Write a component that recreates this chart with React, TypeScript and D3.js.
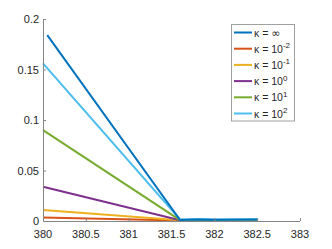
import React from 'react';
import * as d3 from 'd3';

const xs = [380, 381.6, 381.8, 382, 382.5];
const kappaInf = [0.184, 0.001, 0.0015, 0.0012, 0.0015];
const kappaM2 = [0.0035, 0.0005, 0.0005, 0.0005, 0.0005];
const kappaM1 = [0.011, 0.0008, 0.0008, 0.0008, 0.0008];
const kappa0 = [0.034, 0.0008, 0.0008, 0.0008, 0.0008];
const kappa1 = [0.09, 0.0008, 0.0008, 0.0008, 0.0008];
const kappa2 = [0.156, 0.0015, 0.002, 0.0015, 0.0018];
const infStartX = 380.05;

const xTicks = [380, 380.5, 381, 381.5, 382, 382.5, 383];
const yTicks = [0, 0.05, 0.1, 0.15, 0.2];

const series = [
  { label: '∞', exp: null, color: '#0072BD', values: kappaInf },
  { label: '10', exp: '-2', color: '#D95319', values: kappaM2 },
  { label: '10', exp: '-1', color: '#EDB120', values: kappaM1 },
  { label: '10', exp: '0', color: '#7E2F8E', values: kappa0 },
  { label: '10', exp: '1', color: '#77AC30', values: kappa1 },
  { label: '10', exp: '2', color: '#4DBEEE', values: kappa2 },
];
// draw order: blue on top like the figure
const drawOrder = [1, 2, 3, 4, 5, 0];

export default function App() {
  const x = d3.scaleLinear().domain([380, 383]).range([43, 300]);
  const y = d3.scaleLinear().domain([0, 0.2]).range([221, 19]);
  const ln = d3
    .line<[number, number]>()
    .x(d => x(d[0]))
    .y(d => y(d[1]));
  const font = 'Liberation Sans, Arial, sans-serif';
  const axisColor = '#858585';

  return (
    <svg width={332} height={249} style={{ position: 'absolute', left: 0, top: 0 }}>
      <rect width={332} height={249} fill="white" />
      {drawOrder.map(i => {
        const s = series[i];
        const pts = s.values.map((v, j) => [j === 0 && i === 0 ? infStartX : xs[j], v] as [number, number]);
        return <path key={i} d={ln(pts) || ''} fill="none" stroke={s.color} strokeWidth={2} />;
      })}
      {/* axes */}
      <line x1={x(380)} x2={x(383)} y1={y(0) + 0.5} y2={y(0) + 0.5} stroke={axisColor} />
      <line x1={x(380) + 0.5} x2={x(380) + 0.5} y1={y(0)} y2={y(0.2)} stroke={axisColor} />
      {xTicks.map(t => (
        <g key={t}>
          <line x1={x(t) + 0.5} x2={x(t) + 0.5} y1={y(0)} y2={y(0) - 3} stroke={axisColor} />
          <text x={x(t)} y={237.5} textAnchor="middle" fontFamily={font} fontSize={11} fill="#262626">
            {t}
          </text>
        </g>
      ))}
      {yTicks.map(t => (
        <g key={t}>
          <line x1={x(380)} x2={x(380) + 3} y1={y(t) + 0.5} y2={y(t) + 0.5} stroke={axisColor} />
          <text x={39} y={y(t) + 4} textAnchor="end" fontFamily={font} fontSize={11} fill="#262626">
            {t}
          </text>
        </g>
      ))}
      {/* legend */}
      <rect x={231.5} y={24.5} width={63} height={96.5} fill="white" stroke="#a0a0a0" />
      {series.map((s, i) => {
        const cy = 32.5 + i * 16.2;
        return (
          <g key={i}>
            <line x1={234} x2={252} y1={cy} y2={cy} stroke={s.color} strokeWidth={2} />
            <text x={254} y={cy + 4} fontFamily={font} fontSize={10.5} fill="#262626">
              κ = {s.exp ? s.label : <tspan fontFamily="DejaVu Sans" fontSize={11}>{s.label}</tspan>}
              {s.exp && (
                <tspan dy={-4.5} fontSize={8}>
                  {s.exp}
                </tspan>
              )}
            </text>
          </g>
        );
      })}
    </svg>
  );
}
